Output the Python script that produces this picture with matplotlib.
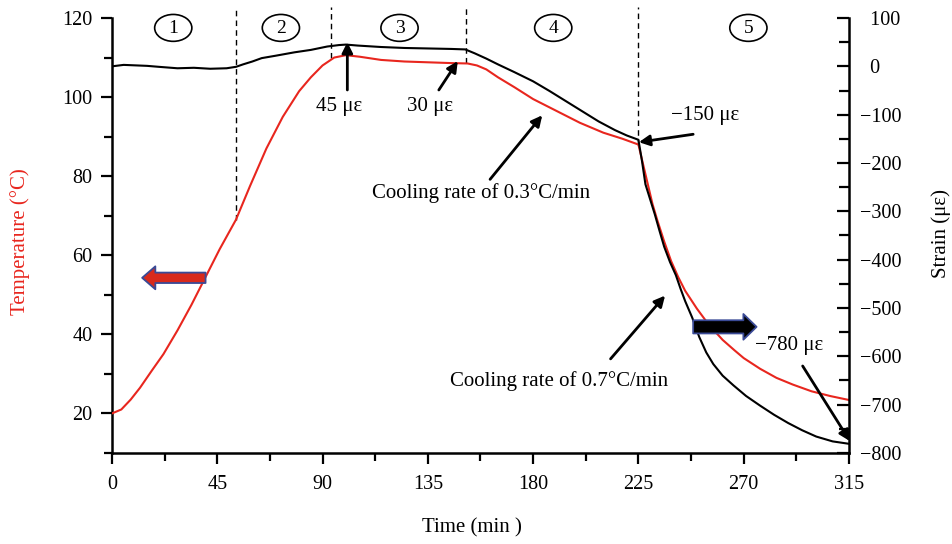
import numpy as np
import matplotlib
matplotlib.use('Agg')
import matplotlib.pyplot as plt
from matplotlib.patches import Ellipse
from matplotlib.ticker import MultipleLocator, FuncFormatter

plt.rcParams['font.family'] = ['Liberation Serif', 'DejaVu Serif']
plt.rcParams['axes.unicode_minus'] = True

# Temperature curve (left axis)
temp_t = [0, 4, 8, 12, 17, 22, 28, 34, 40, 46, 53, 59, 66, 73, 80, 85, 90, 95, 100,
          106, 115, 125, 135, 145, 152, 156, 160, 165, 172, 180, 190, 200, 210, 218, 225,
          227, 229, 231, 233, 236, 239, 242, 245, 250, 255, 261, 266, 270, 277, 284,
          291, 299, 307, 315]
temp_c = [20, 21, 23.5, 26.5, 30.8, 35, 41, 47.5, 54.5, 61.5, 69, 77.5, 87, 95, 101.5,
          105, 108, 110, 110.6, 110.2, 109.4, 109, 108.8, 108.6, 108.5, 108, 107, 105,
          102.5, 99.5, 96.5, 93.5, 91, 89.5, 88, 83, 78, 73, 69, 63.5, 58.5, 54.5, 51,
          46.5, 42.5, 38.6, 36, 34, 31.3, 29, 27.3, 25.6, 24.4, 23.4]

# Strain curve (right axis)
strain_t = [0, 5, 10, 15, 20, 28, 35, 42, 49, 53, 56, 60, 64, 70, 78, 85, 92, 97, 100,
            105, 115, 125, 135, 145, 151, 155, 160, 165, 172, 180, 187, 194, 201, 208,
            215, 220, 225, 226.5, 228, 230, 232, 234, 236, 238.5, 241, 243, 245, 248,
            251, 254, 257, 261, 265.6, 271, 277, 283, 289, 295, 301, 308, 315]
strain_ue = [0, 3, 2, 1, -1, -4, -3, -5, -4, -1, 4, 10, 17, 22, 29, 34, 41, 44, 45, 43,
             40, 38, 37, 36, 35, 27, 16, 4, -12, -31, -51, -72, -93, -114, -132, -143,
             -152, -195, -244, -275, -306, -340, -373, -405, -432, -460, -486, -520,
             -560, -592, -616, -640, -660, -682, -702, -721, -738, -753, -766, -776, -781]

# phase boundaries and labels
phase_bounds = [53, 93.5, 151.5, 225]
bound_end_temp = [69, 110, 108.5, 88]
phase_names = ['1', '2', '3', '4', '5']
phase_mid_t = [26.2, 72.2, 122.9, 188.6, 272]

red = '#e8261e'

fig = plt.figure(figsize=(9.52, 5.44), dpi=100)
ax = fig.add_axes([0.1176, 0.1673, 0.7742, 0.7996])
ax2 = ax.twinx()

ax.plot(temp_t, temp_c, color=red, lw=1.5, zorder=3)
ax2.plot(strain_t, strain_ue, color='black', lw=1.5, zorder=3)

ax.set_xlim(0, 315)
ax.set_ylim(10, 120)
ax2.set_ylim(-800, 100)

ax.xaxis.set_major_locator(MultipleLocator(45))
ax.xaxis.set_minor_locator(MultipleLocator(22.5))
ax.yaxis.set_major_locator(MultipleLocator(20))
ax.set_yticks(np.arange(10, 121, 20), minor=True)
ax2.yaxis.set_major_locator(MultipleLocator(100))
ax2.yaxis.set_minor_locator(MultipleLocator(50))

def right_fmt(v, pos):
    s = '%d' % v
    if v < 0:
        return '\u2212' + s[1:]
    return '\u2002' + s
ax2.yaxis.set_major_formatter(FuncFormatter(right_fmt))

for a in (ax, ax2):
    a.spines['top'].set_visible(False)
    for s in a.spines.values():
        s.set_linewidth(1.8)
ax.spines['right'].set_visible(False)
ax2.spines['left'].set_visible(False)
ax2.spines['bottom'].set_visible(False)

ax.tick_params(axis='x', which='major', direction='out', length=8, width=1.6, labelsize=14.5, pad=8)
ax.tick_params(axis='x', which='minor', direction='out', length=5.5, width=1.6)
ax.tick_params(axis='y', which='major', direction='out', length=8, width=1.6, labelsize=14.5, pad=6)
ax.tick_params(axis='y', which='minor', direction='out', length=6, width=1.6)
ax2.tick_params(axis='y', which='major', direction='in', length=9, width=1.6, labelsize=14.5, pad=8)
ax2.tick_params(axis='y', which='minor', direction='in', length=7, width=1.6)

ax.set_xlabel('Time (min )', fontsize=15, va='center')
ax.xaxis.set_label_coords(0.488, -0.173)
ax.set_ylabel('Temperature (\u00b0C)', fontsize=15, color=red, va='center')
ax.yaxis.set_label_coords(-0.125, 0.486)
ax2.set_ylabel('Strain (\u03bc\u03b5)', fontsize=15, va='center')
ax2.yaxis.set_label_coords(1.125, 0.505)

# dashed phase boundaries
ax.vlines(phase_bounds, bound_end_temp, 122.8, colors='black', lw=1.0,
          linestyles=(0, (4, 3)), clip_on=False, zorder=2)

# circled phase numbers
for name, t in zip(phase_names, phase_mid_t):
    ax.add_patch(Ellipse((t, 117.5), 15.9, 6.8, fill=False, lw=1.2, ec='black', clip_on=False))
    ax.text(t, 117.3, name, ha='center', va='center', fontsize=14)

# annotations
arrow = dict(arrowstyle='-|>', color='black', lw=2.0, mutation_scale=16, shrinkA=0, shrinkB=0)
notes = [
    ('45 \u03bc\u03b5', (97.1, 97.7), (100.6, 101.8), (100.6, 113.9)),
    ('30 \u03bc\u03b5', (135.8, 97.7), (139.7, 101.8), (147.8, 109.1)),
    ('\u2212150 \u03bc\u03b5', (253.5, 95.4), (248.4, 90.6), (225.2, 88.6)),
    ('Cooling rate of 0.3\u00b0C/min', (157.7, 75.7), (161.6, 79.2), (183.9, 95.4)),
    ('Cooling rate of 0.7\u00b0C/min', (191.2, 28.3), (213.1, 33.8), (236.4, 49.8)),
    ('\u2212780 \u03bc\u03b5', (289.6, 37.1), (295.2, 32.0), (315.4, 13.0)),
]
for label, txy, tail, tip in notes:
    ax2.annotate('', xy=tip, xytext=tail, xycoords=ax.transData, textcoords=ax.transData,
                 arrowprops=arrow, annotation_clip=False, zorder=6)
    ax2.text(txy[0], txy[1], label, transform=ax.transData, ha='center', va='center',
             fontsize=15, zorder=6)

# block arrows showing which axis each curve belongs to
ax2.annotate('', xy=(12.9, 54.3), xytext=(40.0, 54.3), xycoords=ax.transData,
             textcoords=ax.transData, zorder=7,
             arrowprops=dict(arrowstyle='simple,head_length=0.95,head_width=1.65,tail_width=0.75',
                             fc='#d82a1c', ec='#3a4a96', lw=1.3, mutation_scale=10,
                             shrinkA=0, shrinkB=0))
ax2.annotate('', xy=(275.5, 41.9), xytext=(248.4, 41.9), xycoords=ax.transData,
             textcoords=ax.transData, zorder=7,
             arrowprops=dict(arrowstyle='simple,head_length=0.95,head_width=1.85,tail_width=0.95',
                             fc='black', ec='#3a4a96', lw=1.3, mutation_scale=10,
                             shrinkA=0, shrinkB=0))

fig.savefig('out.png', dpi=100)
